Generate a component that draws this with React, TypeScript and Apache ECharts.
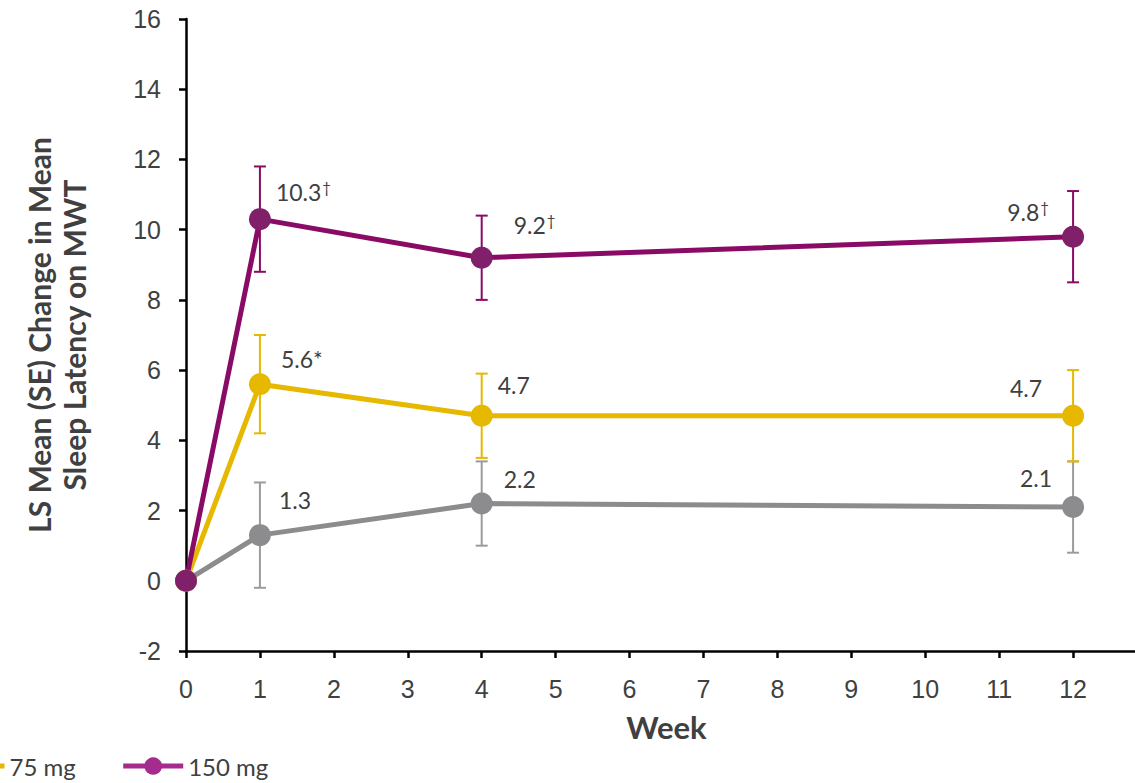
import React, { useEffect, useRef } from "react";
import * as echarts from "echarts";

const weeks = [0, 1, 4, 12];
const xTicksMax = 13;
const yMin = -2;
const yMax = 16;

const placeboValues = [0, 1.3, 2.2, 2.1];
const placeboSE = [0, 1.5, 1.2, 1.3];
const placeboLabels = ["", "1.3", "2.2", "2.1"];

const dose75Values = [0, 5.6, 4.7, 4.7];
const dose75SE = [0, 1.4, 1.2, 1.3];
const dose75Labels = ["", "5.6*", "4.7", "4.7"];

const dose150Values = [0, 10.3, 9.2, 9.8];
const dose150SE = [0, 1.5, 1.2, 1.3];
const dose150Labels = ["", "10.3†", "9.2†", "9.8†"];

const GRAY = "#8C8C8E";
const GRAY_ERR = "#9B9B9B";
const YELLOW = "#E6B800";
const PURPLE = "#8A0B66";
const PURPLE_MARK = "#80206A";
const PURPLE_LEGEND = "#A52C8E";
const TEXT = "#404040";
const LABEL_FONT = "Lato, 'Open Sans', sans-serif";
const TICK_FONT = "'Liberation Sans', Arial, sans-serif";

type Pos = { position: string; offset: number[] };

const placeboPos: Pos[] = [
  { position: "right", offset: [0, 0] },
  { position: "right", offset: [3, -35] },
  { position: "right", offset: [6, -25] },
  { position: "left", offset: [-5, -29] },
];
const dose75Pos: Pos[] = [
  { position: "right", offset: [0, 0] },
  { position: "right", offset: [5, -25] },
  { position: "right", offset: [0, -31] },
  { position: "left", offset: [-15, -28] },
];
const dose150Pos: Pos[] = [
  { position: "right", offset: [0, 0] },
  { position: "right", offset: [0, -27] },
  { position: "right", offset: [16, -33] },
  { position: "left", offset: [-8, -25] },
];

function fmt(s: string) {
  if (s.endsWith("†")) return `{v|${s.slice(0, -1)}}{s|†}`;
  return `{v|${s}}`;
}

function lineSeries(
  name: string,
  values: number[],
  labels: string[],
  pos: Pos[],
  lineColor: string,
  markColor: string
) {
  return {
    name,
    type: "line",
    symbol: "circle",
    symbolSize: 22,
    lineStyle: { color: lineColor, width: 5 },
    itemStyle: { color: markColor },
    z: 5,
    data: weeks.map((w, i) => ({
      value: [w, values[i]],
      label: {
        show: labels[i] !== "",
        position: pos[i].position,
        offset: pos[i].offset,
        formatter: fmt(labels[i]),
        rich: {
          v: { fontFamily: LABEL_FONT, fontSize: 23, color: TEXT },
          s: {
            fontFamily: LABEL_FONT,
            fontSize: 15,
            color: TEXT,
            padding: [0, 0, 10, 1],
          },
        },
      },
    })),
  };
}

function errorSeries(name: string, values: number[], se: number[], color: string) {
  const data = weeks
    .map((w, i) => [w, values[i] - se[i], values[i] + se[i]])
    .filter((d, i) => se[i] > 0);
  return {
    name,
    type: "custom",
    z: 3,
    silent: true,
    renderItem: (_params: any, api: any) => {
      const x = api.value(0);
      const lo = api.coord([x, api.value(1)]);
      const hi = api.coord([x, api.value(2)]);
      const hw = 6;
      const style = { stroke: color, lineWidth: 2 };
      return {
        type: "group",
        children: [
          { type: "line", shape: { x1: lo[0], y1: lo[1], x2: hi[0], y2: hi[1] }, style },
          { type: "line", shape: { x1: lo[0] - hw, y1: lo[1], x2: lo[0] + hw, y2: lo[1] }, style },
          { type: "line", shape: { x1: hi[0] - hw, y1: hi[1], x2: hi[0] + hw, y2: hi[1] }, style },
        ],
      };
    },
    encode: { x: 0, y: [1, 2] },
    data,
  };
}

export default function App() {
  const ref = useRef<HTMLDivElement>(null);
  useEffect(() => {
    if (!ref.current) return;
    const chart = echarts.init(ref.current, null, { renderer: "svg" });
    chart.setOption({
      animation: false,
      backgroundColor: "#ffffff",
      grid: {
        left: 186,
        top: 19,
        width: 961,
        height: 632,
        containLabel: false,
        outerBoundsMode: "none",
      },
      legend: {
        left: -63,
        top: 749,
        itemWidth: 60,
        itemHeight: 22,
        itemGap: 45,
        textStyle: { fontFamily: LABEL_FONT, fontSize: 24, color: TEXT },
        data: [
          {
            name: "75 mg",
            itemStyle: { color: YELLOW },
            lineStyle: { color: YELLOW, width: 5 },
          },
          {
            name: "150 mg",
            itemStyle: { color: PURPLE_LEGEND },
            lineStyle: { color: PURPLE_LEGEND, width: 5 },
          },
        ],
      },
      xAxis: {
        type: "value",
        min: 0,
        max: xTicksMax,
        interval: 1,
        name: "Week",
        nameLocation: "middle",
        nameGap: 60,
        nameTextStyle: {
          fontFamily: LABEL_FONT,
          fontWeight: "bold",
          fontSize: 31,
          color: TEXT,
        },
        axisLine: { onZero: false, lineStyle: { color: "#000", width: 2.5 } },
        axisTick: { show: true, length: 7, lineStyle: { color: "#000", width: 2.5 } },
        axisLabel: {
          margin: 25,
          fontFamily: TICK_FONT,
          fontSize: 25,
          color: TEXT,
          formatter: (v: number) => (v >= xTicksMax ? "" : String(v)),
        },
        splitLine: { show: false },
      },
      yAxis: {
        type: "value",
        min: yMin,
        max: yMax,
        interval: 2,
        name: "LS Mean (SE) Change in Mean\nSleep Latency on MWT",
        nameLocation: "middle",
        nameRotate: 90,
        nameGap: 95,
        nameTextStyle: {
          fontFamily: LABEL_FONT,
          fontWeight: "bold",
          fontSize: 30,
          lineHeight: 35,
          color: TEXT,
        },
        axisLine: { show: true, onZero: false, lineStyle: { color: "#000", width: 2.5 } },
        axisTick: { show: true, length: 7, lineStyle: { color: "#000", width: 2.5 } },
        axisLabel: { margin: 25, fontFamily: TICK_FONT, fontSize: 25, color: TEXT },
        splitLine: { show: false },
      },
      series: [
        errorSeries("Placebo SE", placeboValues, placeboSE, GRAY_ERR),
        errorSeries("75 mg SE", dose75Values, dose75SE, YELLOW),
        errorSeries("150 mg SE", dose150Values, dose150SE, PURPLE),
        lineSeries("Placebo", placeboValues, placeboLabels, placeboPos, GRAY, GRAY),
        lineSeries("75 mg", dose75Values, dose75Labels, dose75Pos, YELLOW, YELLOW),
        lineSeries("150 mg", dose150Values, dose150Labels, dose150Pos, PURPLE, PURPLE_MARK),
      ],
    });
    return () => chart.dispose();
  }, []);
  return (
    <div
      ref={ref}
      style={{ position: "fixed", left: 0, top: 0, width: 1135, height: 783 }}
    />
  );
}
